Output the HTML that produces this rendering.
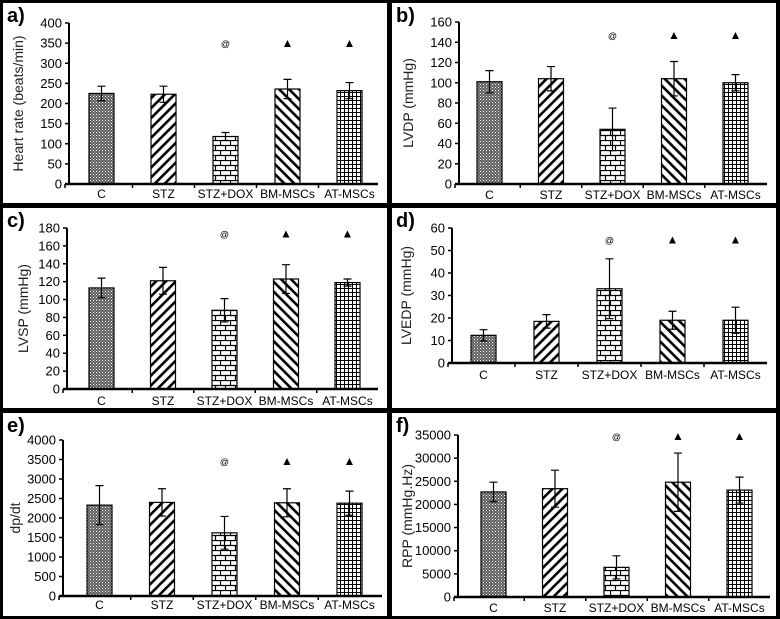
<!DOCTYPE html>
<html><head><meta charset="utf-8"><style>
html,body{margin:0;padding:0;background:#000;}
svg{display:block;font-family:"Liberation Sans",Arial,sans-serif;}
</style></head><body>
<svg id="fig" width="780" height="619" viewBox="0 0 780 619">
<defs>
<pattern id="pDots" width="3" height="3" patternUnits="userSpaceOnUse"><rect width="3" height="3" fill="#5e5e5e"/><rect x="0" y="0" width="1" height="1" fill="#fff"/><rect x="1.5" y="1.5" width="1" height="1" fill="#ccc"/></pattern>
<pattern id="pFwd" width="7" height="7" patternUnits="userSpaceOnUse" patternTransform="rotate(45)"><rect width="7" height="7" fill="#fff"/><rect width="2.6" height="7" fill="#000"/></pattern>
<pattern id="pBack" width="7" height="7" patternUnits="userSpaceOnUse" patternTransform="rotate(-45)"><rect width="7" height="7" fill="#fff"/><rect width="2.6" height="7" fill="#000"/></pattern>
<pattern id="pBrick" width="10" height="10" patternUnits="userSpaceOnUse"><rect width="10" height="10" fill="#fff"/><path d="M0 0.5H10M0 5.5H10M0.5 0V5M5.5 5V10" stroke="#000" stroke-width="1.2" fill="none"/></pattern>
<pattern id="pGrid" width="4" height="4" patternUnits="userSpaceOnUse"><rect width="4" height="4" fill="#fff"/><path d="M0 0.5H4M0.5 0V4" stroke="#000" stroke-width="1" fill="none"/></pattern>
</defs>
</svg>
<script>
const categories = ["C","STZ","STZ+DOX","BM-MSCs","AT-MSCs"];
const fills = ["url(#pDots)","url(#pFwd)","url(#pBrick)","url(#pBack)","url(#pGrid)"];
const hrMean = [225,223,118,236,232];
const hrErr = [18,20,10,24,20];
const lvdpMean = [101,104,54,104,100];
const lvdpErr = [11,12,21,17,8];
const lvspMean = [113,121,88,123,119];
const lvspErr = [11,15,13,16,4];
const lvedpMean = [12.3,18.5,33,19,19];
const lvedpErr = [2.5,3,13.3,4,5.8];
const dpdtMean = [2330,2400,1620,2390,2380];
const dpdtErr = [500,350,420,360,310];
const rppMean = [22700,23400,6400,24800,23100];
const rppErr = [2100,4000,2500,6300,2800];
const hrTicks = [0,50,100,150,200,250,300,350,400];
const lvdpTicks = [0,20,40,60,80,100,120,140,160];
const lvspTicks = [0,20,40,60,80,100,120,140,160,180];
const lvedpTicks = [0,10,20,30,40,50,60];
const dpdtTicks = [0,500,1000,1500,2000,2500,3000,3500,4000];
const rppTicks = [0,5000,10000,15000,20000,25000,30000,35000];
const markSymbols = ["","","@","▲","▲"];
const markLevels = [350,147,174,55,3460,34800];

const panels = [
 {id:"a",box:[3,3,384,200],ax:69,top:23,zero:184,xend:378,ymax:400,bar0:89,step:62,lab:198,title:"Heart rate (beats/min)",tx:18,mean:hrMean,err:hrErr,ticks:hrTicks,mk:markLevels[0]},
 {id:"b",box:[392,3,384,200],ax:459,top:22,zero:184,xend:767,ymax:160,bar0:477,step:61.5,lab:199,title:"LVDP (mmHg)",tx:408,mean:lvdpMean,err:lvdpErr,ticks:lvdpTicks,mk:markLevels[1]},
 {id:"c",box:[3,208,384,200],ax:67,top:228,zero:389,xend:378,ymax:180,bar0:89,step:61.5,lab:405,title:"LVSP (mmHg)",tx:23,mean:lvspMean,err:lvspErr,ticks:lvspTicks,mk:markLevels[2]},
 {id:"d",box:[392,208,384,200],ax:452,top:228,zero:363,xend:767,ymax:60,bar0:471,step:63,lab:379,title:"LVEDP (mmHg)",tx:406,mean:lvedpMean,err:lvedpErr,ticks:lvedpTicks,mk:markLevels[3]},
 {id:"e",box:[3,413,384,203],ax:63,top:440,zero:596,xend:382,ymax:4000,bar0:87,step:62.5,lab:609,title:"dp/dt",tx:15,mean:dpdtMean,err:dpdtErr,ticks:dpdtTicks,mk:markLevels[4]},
 {id:"f",box:[392,413,384,203],ax:458,top:435,zero:597,xend:770,ymax:35000,bar0:481,step:61.5,lab:612,title:"RPP (mmHg.Hz)",tx:407,mean:rppMean,err:rppErr,ticks:rppTicks,mk:markLevels[5]}
];
const NS="http://www.w3.org/2000/svg";
const svg=document.getElementById("fig");
function mk(tag,attrs,parent){const e=document.createElementNS(NS,tag);for(const k in attrs)e.setAttribute(k,attrs[k]);(parent||svg).appendChild(e);return e;}
panels.forEach(p=>{
  const g=mk("g",{});
  
  
  mk("rect",{x:p.box[0],y:p.box[1],width:p.box[2],height:p.box[3],fill:"#fff"},g);
  const y=v=>p.zero-(v/p.ymax)*(p.zero-p.top);
  const lt=mk("text",{x:p.box[0]+4,y:p.box[1]+19,"font-size":"20","font-weight":"bold",fill:"#000"},g);
  lt.textContent=p.id+")";
  
  
  const cy=(p.top+p.zero)/2;
  const yt=mk("text",{x:p.tx,y:cy,"font-size":"14","text-anchor":"middle",transform:`rotate(-90 ${p.tx} ${cy})`,"dominant-baseline":"central",fill:"#222"},g);
  yt.textContent=p.title;
  
  
  p.ticks.forEach(t=>{
    const ty=y(t);
    mk("line",{x1:p.ax-4,x2:p.ax,y1:ty,y2:ty,stroke:"#000","stroke-width":1.5},g);
    const tl=mk("text",{x:p.ax-7,y:ty+4.5,"font-size":"13","text-anchor":"end",fill:"#000"},g);
    tl.textContent=t;
    
    
  });
  categories.forEach((c,i)=>{
    const bx=p.bar0+i*p.step, bw=25;
    const top=y(p.mean[i]);
    const r=mk("rect",{x:bx,y:top,width:bw,height:p.zero-top,fill:fills[i],stroke:"#000","stroke-width":1.2},g);
    
    
    const cx=bx+bw/2, e1=y(p.mean[i]+p.err[i]), e2=y(p.mean[i]-p.err[i]);
    const eg=mk("path",{d:`M${cx} ${e1}V${e2}M${cx-4} ${e1}H${cx+4}M${cx-4} ${e2}H${cx+4}`,stroke:"#000","stroke-width":1.2,fill:"none"},g);
    
    
    const xl=mk("text",{x:cx,y:p.lab,"font-size":"12","text-anchor":"middle",fill:"#000"},g);
    xl.textContent=c;
    
    
    if(markSymbols[i]){
      const m=mk("text",{x:cx,y:y(p.mk)+4,"font-size":markSymbols[i]=="@"?"9":"12","text-anchor":"middle",fill:"#000"},g);
      m.textContent=markSymbols[i];
      
      
    }
    const tx=bx+bw/2+p.step/2;
    if(i<4) mk("line",{x1:tx,x2:tx,y1:p.zero,y2:p.zero+4,stroke:"#000","stroke-width":1.5},g);
  });
  mk("line",{x1:p.ax-4,x2:p.ax-4,y1:p.zero,y2:p.zero+4,stroke:"#000","stroke-width":1.5},g);
  const ya=mk("line",{x1:p.ax,x2:p.ax,y1:p.top,y2:p.zero,stroke:"#000","stroke-width":2},g);
  
  
  const xa=mk("line",{x1:p.ax-4,x2:p.xend,y1:p.zero,y2:p.zero,stroke:"#000","stroke-width":2.5},g);
  
  
});
</script>
</body></html>
